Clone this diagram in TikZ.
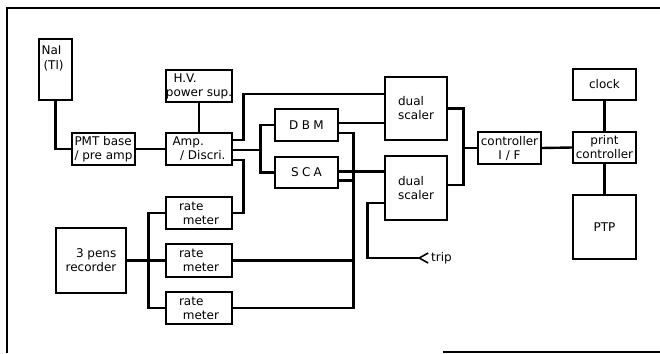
\documentclass[tikz,border=0pt]{standalone}
\usepackage{fontspec}
\setmainfont{DejaVu Sans}
\usepackage{tikz}
\usetikzlibrary{arrows.meta}

\tikzset{
  box/.style={draw, line width=1.3pt, inner sep=0pt, align=center,
              font=\fontsize{12}{14}\selectfont},
  conn/.style={line width=2.4pt},
  spaced/.style={font=\fontsize{12}{14}\selectfont\addfontfeature{LetterSpace=28}},
}

\begin{document}
\begin{tikzpicture}[x=1pt, y=-1pt]
    \useasboundingbox (0,0) rectangle (660,353);
    % frame
    \draw[line width=1.8pt] (7,353) -- (7,8) -- (660,8);
    \draw[line width=1.5pt] (443,352) -- (660,352);

    % detector chain
    \node[box, minimum width=33pt, minimum height=61pt,
          label={[anchor=north west, align=left, inner sep=0pt, xshift=3pt, yshift=-7pt,
                  font=\fontsize{12}{15}\selectfont]north west:{NaI\\\,(Tl)}}] (nai) at (55.5,69.5) {};
    \node[box, minimum width=63pt, minimum height=32pt, align=left] (pmt) at (103.5,149) {PMT base\\/ pre amp};
    \node[box, minimum width=66pt, minimum height=32pt, align=left] (hv) at (199,86) {\ \ H.V.\\power sup.};
    \node[box, minimum width=66pt, minimum height=32pt, align=left] (amp) at (199,149) {Amp.\\\ \ / Discri.};
    \node[box, spaced, minimum width=63pt, minimum height=32pt] (dbm) at (306.5,125) {DBM};
    \node[box, spaced, minimum width=63pt, minimum height=31pt] (sca) at (306.5,172.5) {SCA};

    % scalers and printer
    \node[box, minimum width=62pt, minimum height=63pt, align=left] (ds1) at (416,108.5) {dual\\scaler};
    \node[box, minimum width=62pt, minimum height=64pt, align=left] (ds2) at (416,188) {dual\\scaler};
    \node[box, minimum width=63pt, minimum height=32pt] (ctrl) at (509.5,148) {controller\\I / F};
    \node[box, minimum width=63pt, minimum height=31pt] (clock) at (604.5,84.5) {clock};
    \node[box, minimum width=63pt, minimum height=31pt] (print) at (604.5,147.5) {print\\controller};
    \node[box, minimum width=63pt, minimum height=64pt] (ptp) at (604.5,227) {PTP};

    % recorder side
    \node[box, minimum width=70pt, minimum height=65pt, align=right] (rec) at (91,260.5) {3 pens\\recorder};
    \node[box, minimum width=66pt, minimum height=32pt, align=left] (rm1) at (199,213) {rate\\\ meter};
    \node[box, minimum width=66pt, minimum height=33pt, align=left] (rm2) at (199,260.5) {rate\\\ meter};
    \node[box, minimum width=66pt, minimum height=32pt, align=left] (rm3) at (199,308) {rate\\\ meter};
    \node[anchor=west, inner sep=2pt, font=\fontsize{12}{14}\selectfont] (trip) at (429,258) {trip};

    \draw[conn] (nai.south) |- (pmt.west);
    \draw[conn] (pmt.east) -- (amp.west);
    \draw[conn] (hv.south) -- (amp.north);
    \draw[conn] ([yshift=9pt]amp.east) -- ++(11,0) |- ([yshift=14.5pt]ds1.west);
    \draw[conn] ([yshift=-1pt]amp.east) -- ++(28,0) coordinate (split);
    \draw[conn] (dbm.west) -| (split) |- (sca.west);
    \draw[conn] ([yshift=-11pt]amp.east) -- ++(11,0) |- (rm1.east);
    \draw[conn] ([yshift=2pt]dbm.east) -- ([yshift=2pt]dbm.east -| ds1.west);
    \draw[conn] ([yshift=-8pt]dbm.east) -- ++(15,0) |- (rm2.east);
    \draw[conn] ([yshift=1pt]sca.east) -- ([yshift=1pt]sca.east -| ds2.west);
    \draw[conn] ([yshift=-8pt]sca.east) -- ++(15,0) |- (rm3.east);
    \draw[conn, -{Straight Barb[reversed, length=9pt, width=10pt, line width=1.6pt]}]
        ([yshift=-15pt]ds2.west) -- ++(-17,0) |- (trip.west);
    \draw[conn] (ds1.east) -- ++(16,0) |- (ctrl.west);
    \draw[conn] ([yshift=3pt]ds2.east) -- ++(16,0) |- (ctrl.west);
    \draw[conn] (ctrl.east) -- (print.west);
    \draw[conn] (clock.south) -- (print.north);
    \draw[conn] (print.south) -- (ptp.north);
    \draw[conn] (rec.east) -- (rm2.west);
    \draw[conn] (rm1.west) -- ++(-17,0) |- (rm3.west);
\end{tikzpicture}
\end{document}
